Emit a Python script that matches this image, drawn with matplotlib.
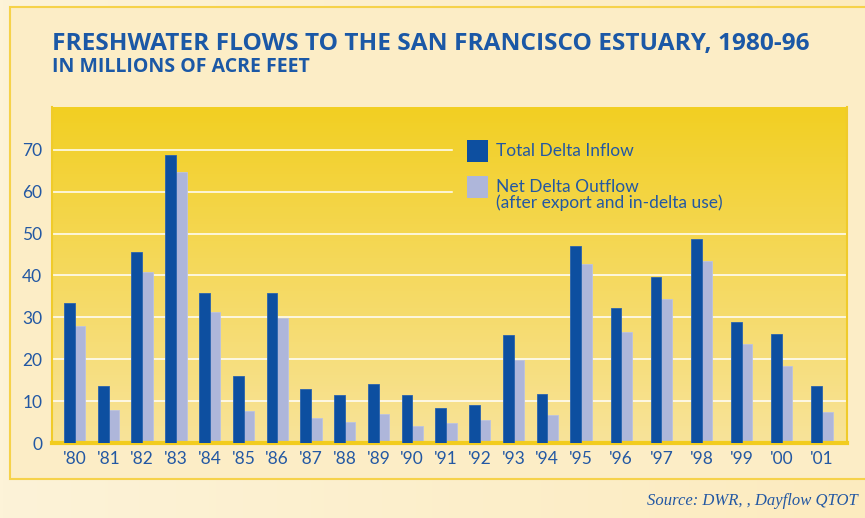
import numpy as np
import matplotlib
matplotlib.use("Agg")
import matplotlib.pyplot as plt
from matplotlib.patches import Rectangle
from matplotlib.colors import LinearSegmentedColormap

# values (millions of acre feet)
years = ["'80", "'81", "'82", "'83", "'84", "'85", "'86", "'87", "'88", "'89", "'90",
         "'91", "'92", "'93", "'94", "'95", "'96", "'97", "'98", "'99", "'00", "'01"]
inflow = [33.4, 13.6, 45.6, 68.7, 35.8, 15.9, 35.8, 12.8, 11.4, 14.0, 11.4,
          8.4, 9.0, 25.8, 11.7, 47.0, 32.3, 39.6, 48.7, 29.0, 25.9, 13.7]
outflow = [27.9, 7.9, 40.8, 64.8, 31.3, 7.6, 29.8, 5.9, 5.1, 6.9, 4.0,
           4.8, 5.6, 19.7, 6.7, 42.8, 26.4, 34.4, 43.5, 23.7, 18.3, 7.4]
yticks = [0, 10, 20, 30, 40, 50, 60, 70]

blue = "#0D4FA0"
lilac = "#AEB6DA"
text_blue = "#2358A3"
body_font = ["Lato", "DejaVu Sans"]
title_font = ["Open Sans", "Lato", "DejaVu Sans"]

# the original spreads the later years a bit wider
step = np.where(np.arange(len(years)) > 15, 1.19, 1.0)
x = np.concatenate([[0.0], np.cumsum(step[1:])])

fig = plt.figure(figsize=(8.65, 5.18), dpi=100)

# page background + framed panel
bg = fig.add_axes([0, 0, 1, 1], zorder=-2)
bg.set_axis_off()
page = LinearSegmentedColormap.from_list("page", ["#FDF3D8", "#FCEBBF"])
bg.imshow(np.linspace(0, 1, 256).reshape(1, -1), cmap=page, aspect="auto",
          extent=[0, 1, 0, 1], transform=bg.transAxes)
bg.add_patch(Rectangle((10 / 865, 1 - 479 / 518), 1.0, (479 - 7) / 518,
                       transform=bg.transAxes, facecolor="#FCEDC6",
                       edgecolor="#F6D24A", lw=1.5))
bg.set_xlim(0, 1)
bg.set_ylim(0, 1)

ax = fig.add_axes([52 / 865, 75 / 518, 795 / 865, 336 / 518])
plot_bg = LinearSegmentedColormap.from_list("plot", ["#F8E39A", "#F2CF22"])
ax.imshow(np.linspace(0, 1, 256).reshape(-1, 1), cmap=plot_bg, aspect="auto",
          extent=[0, 1, 0, 1], transform=ax.transAxes, origin="lower", zorder=0)

for y in yticks[1:]:
    xmax = 0.503 if y >= 60 else 1.0
    ax.axhline(y, xmin=0, xmax=xmax, color="white", lw=1.1, zorder=1)

w = 0.32
ax.bar(x - 0.155, inflow, width=w, color=blue, edgecolor="#2A63AE", lw=0.6, zorder=3)
ax.bar(x + 0.155, outflow, width=w, color=lilac, edgecolor="#BCC3E0", lw=0.6, zorder=2)

ax.set_xlim(-0.67, x[-1] + 0.74)
ax.set_ylim(0, 80.2)
ax.set_yticks(yticks)
ax.set_xticks(x)
ax.set_xticklabels(years)
ax.tick_params(length=0, labelsize=12.5, labelcolor=text_blue)
ax.tick_params(axis="y", pad=7)
ax.tick_params(axis="x", pad=6)
for lab in ax.get_xticklabels() + ax.get_yticklabels():
    lab.set_family(body_font)

ax.spines["top"].set_visible(False)
ax.spines["bottom"].set_color("#F2CC1E")
ax.spines["bottom"].set_linewidth(3)
for s in ["left", "right"]:
    ax.spines[s].set_color("#F0CB2A")
    ax.spines[s].set_linewidth(1.5)

# legend drawn by hand
ax.add_patch(Rectangle((0.522, 0.836), 0.026, 0.065, transform=ax.transAxes,
                       facecolor=blue, zorder=4))
ax.add_patch(Rectangle((0.522, 0.729), 0.026, 0.065, transform=ax.transAxes,
                       facecolor=lilac, zorder=4))
ax.text(0.558, 0.869, "Total Delta Inflow", transform=ax.transAxes,
        fontsize=12.5, color=text_blue, va="center", family=body_font)
ax.text(0.558, 0.738, "Net Delta Outflow\n(after export and in-delta use)",
        transform=ax.transAxes, fontsize=12.5, color=text_blue, va="center",
        linespacing=1.0, family=body_font)

fig.text(52 / 865, 1 - 44 / 518, "FRESHWATER FLOWS TO THE SAN FRANCISCO ESTUARY, 1980-96",
         fontsize=17.6, fontweight="bold", color="#1B58A6", family=title_font, va="center")
fig.text(52 / 865, 1 - 67 / 518, "IN MILLIONS OF ACRE FEET",
         fontsize=14, fontweight="bold", color="#1B58A6", family=title_font, va="center")
fig.text(858 / 865, 1 - 501 / 518, "Source: DWR, , Dayflow QTOT",
         fontsize=12, style="italic", color=text_blue, family="Liberation Serif",
         ha="right", va="center")

fig.savefig("out.png", dpi=100)
